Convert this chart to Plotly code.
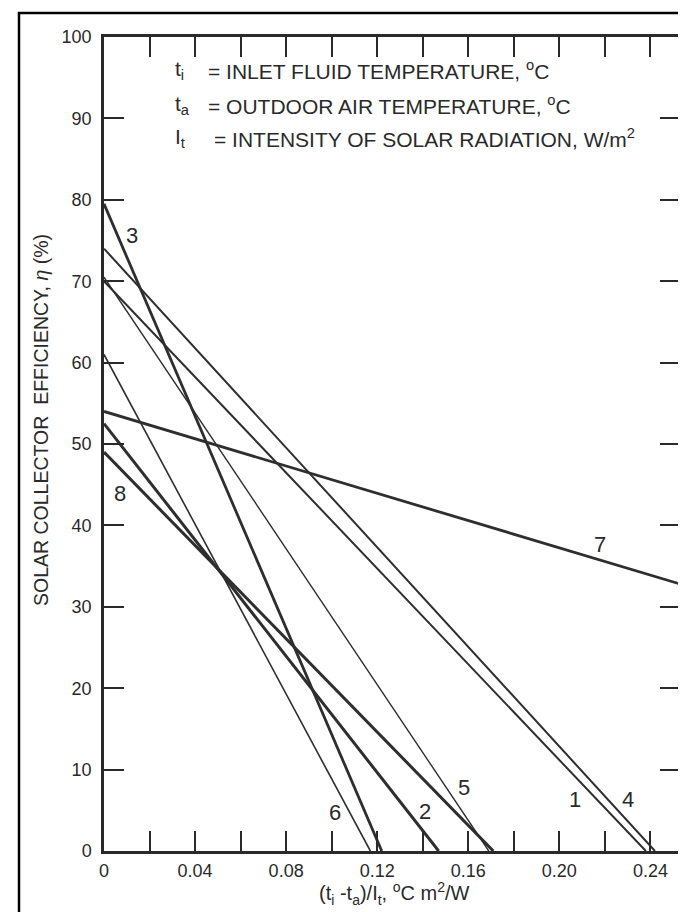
import plotly.graph_objects as go

# ---- data ----
curve_ids = ["1", "2", "3", "4", "5", "6", "7", "8"]
start_x = [0, 0, 0, 0, 0, 0, 0, 0]
start_eff = [70.0, 52.5, 79.5, 74.0, 70.5, 61.0, 54.0, 49.0]
end_x = [0.238, 0.147, 0.122, 0.242, 0.169, 0.117, 0.253, 0.171]
end_eff = [0, 0, 0, 0, 0, 0, 32.8, 0]

label_x = [0.207, 0.141, 0.0125, 0.230, 0.158, 0.1016, 0.218, 0.007]
label_eff = [6.3, 4.8, 75.6, 6.3, 7.8, 4.7, 37.7, 43.9]

x_tick_vals = [0, 0.02, 0.04, 0.06, 0.08, 0.10, 0.12, 0.14, 0.16, 0.18, 0.20, 0.22, 0.24]
x_tick_text = ["0", "", "0.04", "", "0.08", "", "0.12", "", "0.16", "", "0.20", "", "0.24"]
y_tick_vals = [0, 10, 20, 30, 40, 50, 60, 70, 80, 90, 100]

y_title = "SOLAR COLLECTOR  EFFICIENCY, <i>η</i> (%)"
x_title = "(t<sub>i</sub> -t<sub>a</sub>)/I<sub>t</sub>, <sup>o</sup>C m<sup>2</sup>/W"

legend_symbols = ["t<sub>i</sub>", "t<sub>a</sub>", "I<sub>t</sub>"]
legend_texts = [
    "= INLET FLUID TEMPERATURE, <sup>o</sup>C",
    "= OUTDOOR AIR TEMPERATURE, <sup>o</sup>C",
    "= INTENSITY OF SOLAR RADIATION, W/m<sup>2</sup>",
]

# ---- styles ----
line_color = "#2e2e2e"
line_widths = {"1": 2.0, "2": 3.0, "3": 2.8, "4": 2.0, "5": 1.4, "6": 1.6, "7": 2.8, "8": 3.0}
FONT = "Liberation Sans, Arial, Helvetica, sans-serif"
TXT = "#2a2a2a"

W, H = 686, 912
ML, MR, MT, MB = 96, 14, 29, 69
PW, PH = W - ML - MR, H - MT - MB


def px_x(p):
    return (p - ML) / PW


def px_y(p):
    return 1 - (p - MT) / PH


fig = go.Figure()
for i, cid in enumerate(curve_ids):
    fig.add_trace(go.Scatter(
        x=[start_x[i], end_x[i]], y=[start_eff[i], end_eff[i]],
        mode="lines", line=dict(color=line_color, width=line_widths[cid]),
        showlegend=False, hoverinfo="skip", cliponaxis=True,
    ))
    fig.add_annotation(x=label_x[i], y=label_eff[i], text=cid, showarrow=False,
                       font=dict(family=FONT, size=22, color=TXT),
                       xanchor="center", yanchor="middle")

# legend-like definitions at the top
row_y = [62, 97, 130]
for k in range(3):
    fig.add_annotation(xref="paper", yref="paper", x=px_x(165), y=px_y(row_y[k]),
                       text=legend_symbols[k], showarrow=False, xanchor="left", yanchor="middle",
                       font=dict(family=FONT, size=21, color=TXT))
    fig.add_annotation(xref="paper", yref="paper", x=px_x(198 if k < 2 else 204), y=px_y(row_y[k]),
                       text=legend_texts[k], showarrow=False, xanchor="left", yanchor="middle",
                       font=dict(family=FONT, size=21, color=TXT))

# axis titles
fig.add_annotation(xref="paper", yref="paper", x=px_x(33), y=px_y(412), text=y_title,
                   textangle=-90, showarrow=False, xanchor="center", yanchor="middle",
                   font=dict(family=FONT, size=19.5, color=TXT))
fig.add_annotation(xref="paper", yref="paper", x=px_x(386), y=px_y(885), text=x_title,
                   showarrow=False, xanchor="center", yanchor="middle",
                   font=dict(family=FONT, size=20, color=TXT))

# outer frame of the scanned page
fig.add_shape(type="rect", xref="paper", yref="paper",
              x0=px_x(11), x1=px_x(684), y0=px_y(911), y1=px_y(5),
              line=dict(color="black", width=2.5), fillcolor="rgba(0,0,0,0)", layer="below")

axis_common = dict(showline=True, linecolor=TXT, linewidth=2.5, mirror="ticks",
                   ticks="inside", ticklen=20, tickwidth=2.2, tickcolor=TXT,
                   showgrid=False, zeroline=False,
                   tickfont=dict(family=FONT, size=18, color=TXT))

fig.update_xaxes(range=[0, 0.253], tickvals=x_tick_vals, ticktext=x_tick_text,
                 ticklabelstandoff=2, **axis_common)
fig.update_yaxes(range=[0, 100], tickvals=y_tick_vals,
                 ticklabelstandoff=6, **axis_common)

fig.update_layout(width=W, height=H, margin=dict(l=ML, r=MR, t=MT, b=MB, autoexpand=False),
                  plot_bgcolor="white", paper_bgcolor="white")

fig.write_html("out.html")
